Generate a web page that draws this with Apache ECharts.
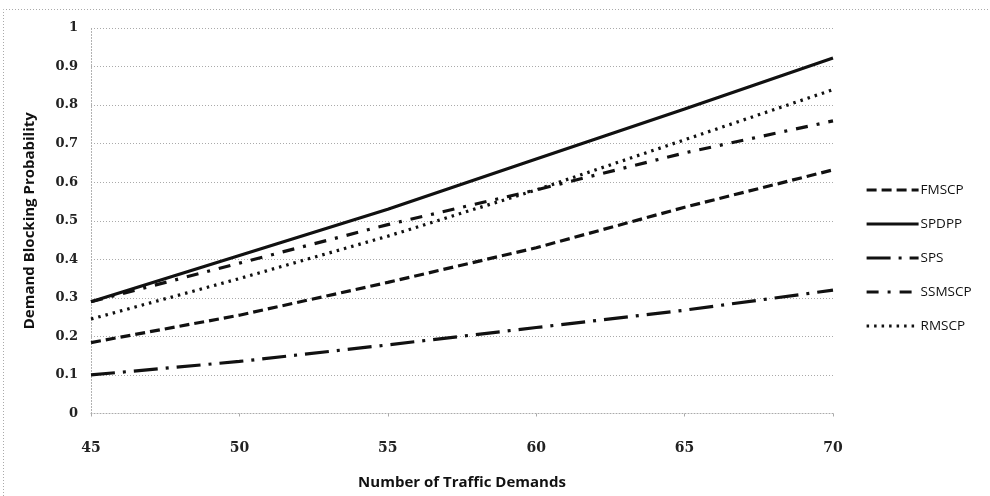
<!DOCTYPE html>
<html>
<head>
<meta charset="utf-8">
<script src="https://cdn.jsdelivr.net/npm/echarts@6/dist/echarts.min.js"></script>
<style>
  html, body { margin: 0; padding: 0; background: #fff; }
  #chart { width: 990px; height: 496px; }
</style>
</head>
<body>
<div id="chart"></div>
<script>
// Number of traffic demands (x axis)
const demands = [45, 50, 55, 60, 65, 70];

// Demand blocking probability per scheme
const fmscp  = [0.184, 0.255, 0.34, 0.43, 0.535, 0.632];
const spdpp  = [0.29, 0.41, 0.53, 0.66, 0.79, 0.922];
const sps    = [0.10, 0.135, 0.178, 0.223, 0.268, 0.32];
const ssmscp = [0.29, 0.39, 0.49, 0.58, 0.676, 0.759];
const rmscp  = [0.245, 0.35, 0.46, 0.58, 0.71, 0.84];

const yTicks = [0, 0.1, 0.2, 0.3, 0.4, 0.5, 0.6, 0.7, 0.8, 0.9, 1];

const pairs = (vals) => demands.map((d, i) => [d, vals[i]]);

const seriesDefs = [
  { name: 'FMSCP',  data: fmscp,  dash: [10, 5],         width: 3.2 },
  { name: 'SPDPP',  data: spdpp,  dash: 'solid',         width: 3.2 },
  { name: 'SPS',    data: sps,    dash: [24, 8, 3, 8],   width: 3.2 },
  { name: 'SSMSCP', data: ssmscp, dash: [12, 9, 3, 9],   width: 3.2 },
  { name: 'RMSCP',  data: rmscp,  dash: [2.5, 5],        width: 3.2 }
];

const chart = echarts.init(document.getElementById('chart'), null, { renderer: 'canvas' });

const numFont = '"DejaVu Serif", "Liberation Serif", serif';
const sansFont = '"Open Sans", "Lato", sans-serif';

chart.setOption({
  backgroundColor: '#ffffff',
  animation: false,
  grid: { left: 91, right: 157, top: 28, bottom: 82.5 },
  legend: {
    orient: 'vertical',
    left: 860,
    top: 178,
    itemWidth: 52,
    itemHeight: 14,
    itemGap: 20,
    itemStyle: { opacity: 0 },
    lineStyle: { width: 3.2 },
    textStyle: { fontFamily: sansFont, fontSize: 13.5, color: '#111', padding: [0, 0, 0, -3] },
    data: seriesDefs.map(s => s.name)
  },
  xAxis: {
    type: 'value',
    min: 45, max: 70, interval: 5,
    name: 'Number of Traffic Demands',
    nameLocation: 'middle',
    nameGap: 62,
    nameTextStyle: { fontFamily: sansFont, fontWeight: 'bold', fontSize: 15, color: '#111' },
    axisLine: { show: true, lineStyle: { color: '#aaa', type: [1, 2], width: 1 } },
    axisTick: { show: true, length: 3, lineStyle: { color: '#aaa' } },
    axisLabel: { margin: 28, fontFamily: numFont, fontWeight: 'bold', fontSize: 14, color: '#222' },
    splitLine: { show: false }
  },
  yAxis: {
    type: 'value',
    min: 0, max: 1, interval: 0.1,
    name: 'Demand Blocking Probability',
    nameLocation: 'middle',
    nameGap: 54,
    nameTextStyle: { fontFamily: sansFont, fontWeight: 'bold', fontSize: 15, color: '#111' },
    axisLine: { show: true, lineStyle: { color: '#aaa', type: [1, 2], width: 1 } },
    axisTick: { show: false },
    axisLabel: {
      margin: 13, fontFamily: numFont, fontWeight: 'bold', fontSize: 13, color: '#222',
      formatter: (v) => {
        const t = yTicks.find(k => Math.abs(k - v) < 1e-9);
        return t === undefined ? '' : String(t);
      }
    },
    splitLine: { show: true, lineStyle: { color: '#aaa', type: [1, 2], width: 1 } }
  },
  graphic: [
    {
      type: 'polyline',
      silent: true,
      shape: { points: [[3.5, 496], [3.5, 9.5], [990, 9.5]] },
      style: { stroke: '#aaa', lineWidth: 1, lineDash: [1, 2], fill: null }
    }
  ],
  series: seriesDefs.map(s => ({
    name: s.name,
    type: 'line',
    data: pairs(s.data),
    showSymbol: false,
    symbol: 'none',
    smooth: false,
    lineStyle: { color: '#111', width: s.width, type: s.dash, cap: 'butt' },
    itemStyle: { color: '#111' }
  }))
});
</script>
</body>
</html>
